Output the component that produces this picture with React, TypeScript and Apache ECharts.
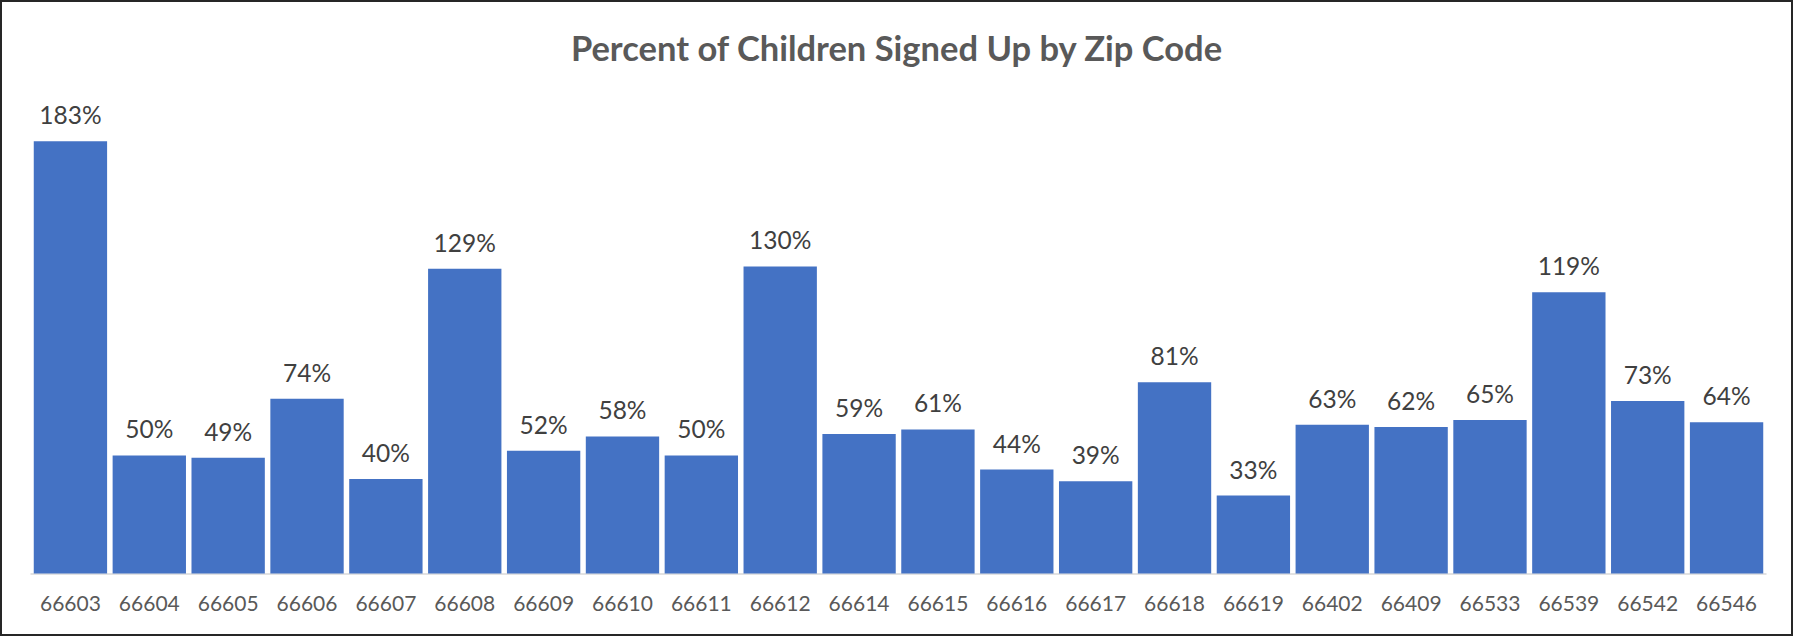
import React, { useEffect, useRef } from "react";
import * as echarts from "echarts";

const zipCodes = [
  "66603", "66604", "66605", "66606", "66607", "66608", "66609", "66610", "66611", "66612", "66614",
  "66615", "66616", "66617", "66618", "66619", "66402", "66409", "66533", "66539", "66542", "66546",
];
const percentSignedUp = [183, 50, 49, 74, 40, 129, 52, 58, 50, 130, 59, 61, 44, 39, 81, 33, 63, 62, 65, 119, 73, 64];
const chartTitle = "Percent of Children Signed Up by Zip Code";

export default function App() {
  const ref = useRef<HTMLDivElement>(null);
  useEffect(() => {
    document.body.style.margin = "0";
    const chart = echarts.init(ref.current!, null, { renderer: "svg" });
    chart.setOption({
      animation: false,
      backgroundColor: "#ffffff",
      title: {
        text: chartTitle,
        left: "center",
        top: 25,
        textStyle: { fontFamily: "Lato", fontSize: 34.5, fontWeight: "bold", color: "#595959" },
      },
      graphic: [
        {
          type: "rect",
          shape: { x: 1, y: 1, width: 1791, height: 634 },
          style: { fill: "none", stroke: "#262626", lineWidth: 2 },
          silent: true,
        },
      ],
      grid: { left: 31, right: 27, top: 101, bottom: 62.5 },
      xAxis: {
        type: "category",
        data: zipCodes,
        axisLine: { lineStyle: { color: "#d9d9d9", width: 1.5 } },
        axisTick: { show: false },
        axisLabel: { fontFamily: "Lato", fontSize: 21, color: "#595959", margin: 18, interval: 0 },
      },
      yAxis: { type: "value", min: 0, max: 200, show: false, splitLine: { show: false } },
      series: [
        {
          type: "bar",
          data: percentSignedUp,
          barCategoryGap: "7%",
          itemStyle: { color: "#4472C4" },
          label: {
            show: true,
            position: "top",
            distance: 14,
            formatter: (p: any) => `${p.value}%`,
            fontFamily: "Lato",
            fontSize: 24.5,
            color: "#404040",
          },
        },
      ],
    });
    return () => chart.dispose();
  }, []);
  return <div ref={ref} style={{ width: 1793, height: 636 }} />;
}
